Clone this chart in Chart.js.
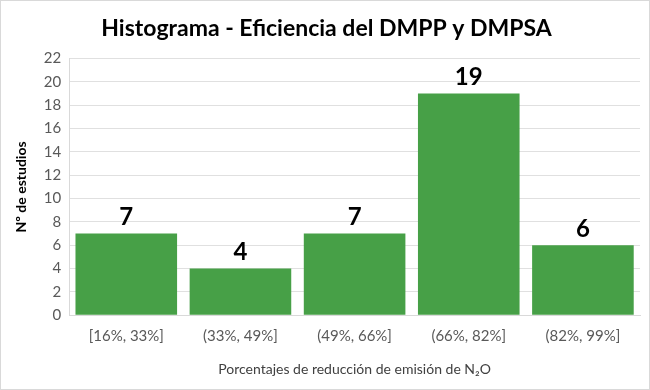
<!DOCTYPE html>
<html><head><meta charset="utf-8">
<script src="https://cdn.jsdelivr.net/npm/chart.js@4/dist/chart.umd.min.js"></script>
<style>
html,body{margin:0;padding:0;background:#fff;}
#wrap{width:650px;height:390px;box-sizing:border-box;border:1px solid #d9d9d9;position:relative;}
canvas{display:block;}
</style></head><body>
<div id="wrap"><canvas id="c" width="648" height="388"></canvas></div>
<script>
const categories = ["[16%, 33%]", "(33%, 49%]", "(49%, 66%]", "(66%, 82%]", "(82%, 99%]"];
const counts = [7, 4, 7, 19, 6];
const titleText = "Histograma - Eficiencia del DMPP y DMPSA";
const xTitle = "Porcentajes de reducción de emisión de N₂O";
const yTitle = "Nº de estudios";

const labelPlugin = {
  id: 'barLabels',
  afterDatasetsDraw(chart) {
    const ctx = chart.ctx;
    const meta = chart.getDatasetMeta(0);
    ctx.save();
    ctx.font = "bold 24px Lato, 'Open Sans', sans-serif";
    ctx.fillStyle = "#000";
    ctx.textAlign = "center";
    ctx.textBaseline = "bottom";
    meta.data.forEach((bar, i) => {
      ctx.fillText(String(counts[i]), bar.x, bar.y - 4);
    });
    ctx.restore();
  }
};

new Chart(document.getElementById('c'), {
  type: 'bar',
  data: {
    labels: categories,
    datasets: [{
      data: counts,
      backgroundColor: '#47a047',
      borderWidth: 0,
      barPercentage: 0.89,
      categoryPercentage: 1.0
    }]
  },
  options: {
    responsive: false,
    animation: false,
    layout: { padding: { left: 12, right: 9, top: 4, bottom: 11 } },
    plugins: {
      legend: { display: false },
      tooltip: { enabled: false },
      title: {
        display: true,
        text: titleText,
        color: '#000',
        font: { family: "Lato, 'Open Sans', sans-serif", size: 23, weight: 'bold' },
        padding: { top: 10, bottom: 16 }
      }
    },
    scales: {
      x: {
        grid: { display: false, drawTicks: false },
        border: { color: '#d9d9d9' },
        ticks: { color: '#595959', font: { family: "Lato, sans-serif", size: 15 }, padding: 12 },
        title: { display: true, text: xTitle, color: '#404040',
                 font: { family: "Lato, sans-serif", size: 14 }, padding: { top: 4, bottom: 0 } }
      },
      y: {
        min: 0, max: 22,
        ticks: { stepSize: 2, color: '#595959', font: { family: "Lato, sans-serif", size: 15 }, padding: 8 },
        grid: { color: '#e0e0e0', drawTicks: false },
        border: { color: '#d9d9d9' },
        title: { display: true, text: yTitle, color: '#000',
                 font: { family: "Lato, sans-serif", size: 14, weight: 'bold' }, padding: { top: 0, bottom: 6 } }
      }
    }
  },
  plugins: [labelPlugin]
});
</script>
</body></html>
